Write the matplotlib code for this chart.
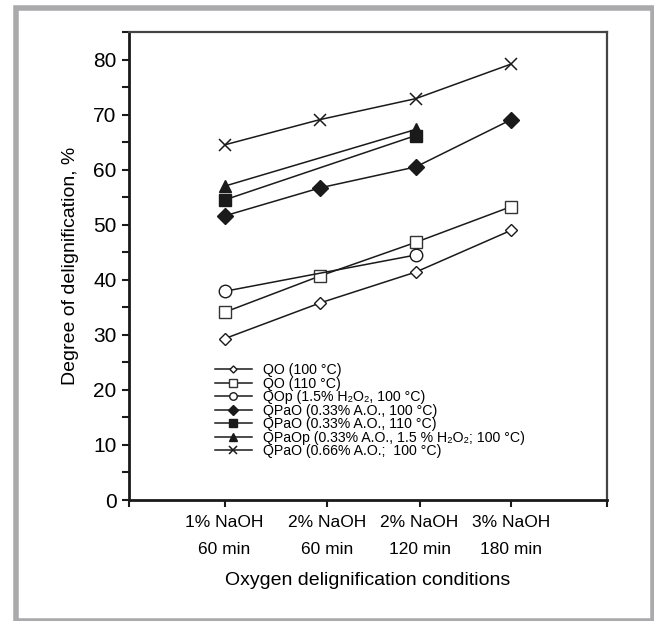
import matplotlib
matplotlib.use("Agg")
import matplotlib.pyplot as plt
from matplotlib.patches import Rectangle

# data
conditions = ["1% NaOH\n60 min", "2% NaOH\n60 min", "2% NaOH\n120 min", "3% NaOH\n180 min"]
tick_pos = [1, 2.07, 3.04, 4]

x_full = [1, 2, 3, 4]
qo_100 = [29.3, 35.8, 41.4, 49.0]
qo_110 = [34.1, 40.7, 46.8, 53.3]
x_qop = [1, 3]
qop = [37.9, 44.5]
qpao_100 = [51.6, 56.7, 60.5, 69.1]
x_short = [1, 3]
qpao_110 = [54.5, 66.2]
qpaop = [57.0, 67.3]
qpao_066 = [64.5, 69.1, 72.9, 79.2]

labels = [
    "QO (100 °C)",
    "QO (110 °C)",
    "QOp (1.5% H\u2082O\u2082, 100 °C)",
    "QPaO (0.33% A.O., 100 °C)",
    "QPaO (0.33% A.O., 110 °C)",
    "QPaOp (0.33% A.O., 1.5 % H\u2082O\u2082; 100 °C)",
    "QPaO (0.66% A.O.;  100 °C)",
]

plt.rcParams["font.family"] = ["Liberation Sans", "DejaVu Sans"]

black = "#1a1a1a"

fig = plt.figure(figsize=(6.54, 6.21), dpi=100)
# grey frame round the figure, cut off at right and bottom
fig.patches.append(Rectangle((15.75 / 654, 0.25 / 621), 637 / 654, 613 / 621,
                             transform=fig.transFigure, fill=False,
                             edgecolor="#aaaaad", linewidth=4))
ax = fig.add_axes([129 / 654, 1 - 500 / 621, 478 / 654, 468 / 621])

lw = 1.1
ax.plot(x_full, qo_100, color=black, lw=lw, marker="D", ms=6, mfc="white", mec=black, mew=1, label=labels[0])
ax.plot(x_full, qo_110, color=black, lw=lw, marker="s", ms=9, mfc="white", mec="#333333", mew=1, label=labels[1])
ax.plot(x_qop, qop, color=black, lw=lw, marker="o", ms=9, mfc="white", mec=black, mew=1, label=labels[2])
ax.plot(x_full, qpao_100, color=black, lw=lw, marker="D", ms=8, mfc=black, mec=black, label=labels[3])
ax.plot(x_short, qpao_110, color=black, lw=lw, marker="s", ms=9, mfc=black, mec=black, label=labels[4])
ax.plot(x_short, qpaop, color=black, lw=lw, marker="^", ms=9, mfc=black, mec=black, label=labels[5])
ax.plot(x_full, qpao_066, color=black, lw=lw, marker="x", ms=9, mew=1.1, label=labels[6])

ax.set_xlim(0, 5)
ax.set_ylim(0, 85)
ax.set_yticks(range(0, 81, 10))
ax.set_yticks(range(5, 86, 10), minor=True)
ax.set_xticks([0] + tick_pos + [5])
ax.set_xticklabels([""] + conditions + [""], fontsize=12.5, linespacing=1.95)
for t in ax.get_yticklabels():
    t.set_fontsize(15)

ax.tick_params(axis="both", which="both", direction="out", length=5, width=1.5, color=black)
ax.tick_params(axis="x", pad=6)
ax.tick_params(axis="y", pad=4)
for side in ["left", "bottom"]:
    ax.spines[side].set_linewidth(2)
    ax.spines[side].set_color(black)
for side in ["top", "right"]:
    ax.spines[side].set_linewidth(1.6)
    ax.spines[side].set_color("#444444")

ax.set_ylabel("Degree of delignification, %", fontsize=14, labelpad=10)
ax.set_xlabel("Oxygen delignification conditions", fontsize=14, labelpad=11)

leg = ax.legend(loc="upper left", bbox_to_anchor=(0.165, 0.308), frameon=False,
                fontsize=10.2, markerscale=0.6, handlelength=2.6, handletextpad=0.8,
                labelspacing=-0.03, borderpad=0)

fig.savefig("out.png", dpi=100)
